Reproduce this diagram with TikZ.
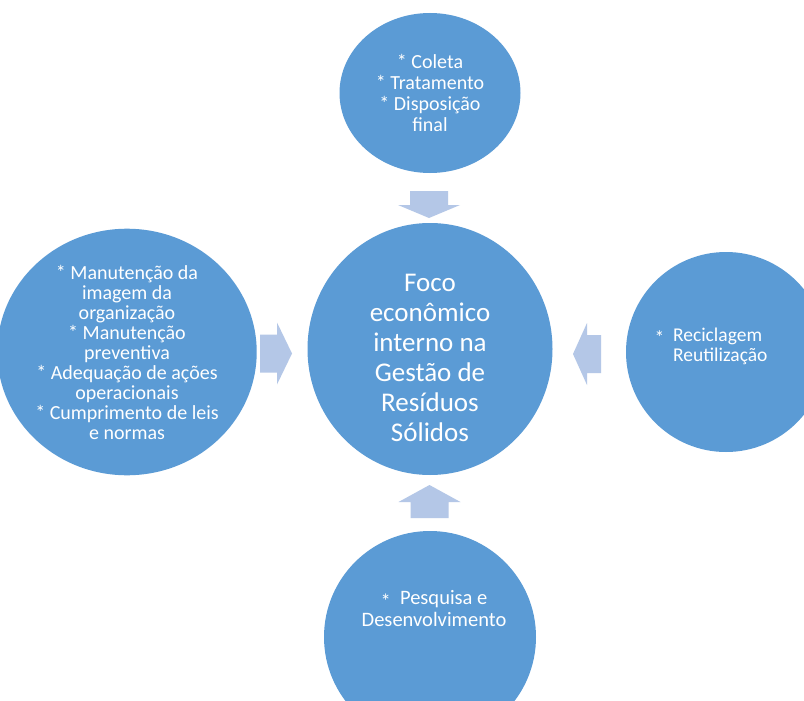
\documentclass[tikz,border=0pt]{standalone}
\usepackage{fontspec}
\setmainfont{Carlito}
\usetikzlibrary{shapes.geometric}
\definecolor{bubblefill}{RGB}{91,155,213}
\definecolor{arrowfill}{RGB}{180,199,231}
\newcommand{\bulletstar}{\raisebox{-0.15em}[0pt][0pt]{*}}
\begin{document}
\begin{tikzpicture}[x=1pt, y=-1pt, font=\fontsize{20}{21}\selectfont,
	bubble/.style={ellipse, fill=bubblefill, text=white, align=center, inner sep=0pt},
	bubbletext/.style={text=white, align=center, inner sep=0pt},
	blockarrow/.style={fill=arrowfill}]
	\clip (0,0) rectangle (804,701);
	\fill[white] (0,0) rectangle (804,701);
	% circles
	\node[bubble, minimum width=245pt, minimum height=252pt] (hub) at (430,349) {};
	\node[bubbletext, font=\fontsize{27}{30}\selectfont] (hub-text) at ([yshift=-9pt]hub.center)
		{Foco\\econômico\\interno na\\Gestão de\\Resíduos\\Sólidos};
	\node[bubble, minimum width=181pt, minimum height=160pt] (top) at (430,93)
		{* Coleta\\* Tratamento\\* Disposição\\final};
	\node[bubble, minimum width=237pt, minimum height=235pt, font=\fontsize{20}{20}\selectfont] (left) at (127,352)
		{* Manutenção da\\imagem da\\organização\\* Manutenção\\preventiva\\* Adequação de ações\\operacionais\\* Cumprimento de leis\\e normas};
	\node[bubble, minimum size=200pt] (right) at (726,352) {};
	\node[bubbletext, align=left, font=\fontsize{19.5}{20}\selectfont] (right-text) at (711,346)
		{\bulletstar\ \ Reciclagem\\\phantom{\bulletstar\ \ }Reutilização};
	\node[bubble, minimum size=212pt] (bottom) at (430,637) {};
	\node[bubbletext, font=\fontsize{20.5}{22}\selectfont] (bottom-text) at (434,609)
		{\bulletstar\ \ Pesquisa e\\Desenvolvimento};
	% block arrows towards the hub
	\path (429,204.5) coordinate (top-hub) (276,353.5) coordinate (left-hub)
		(587,354) coordinate (right-hub) (429.5,501.5) coordinate (bottom-hub);
	\foreach \c/\r/\l/\h in {top-hub/-90/27/13, left-hub/0/32/15, right-hub/180/28/14, bottom-hub/90/33/17}
		\fill[blockarrow, shift={(\c)}, rotate=\r]
			(-\l/2,-19) -- (\l/2-\h,-19) -- (\l/2-\h,-31) -- (\l/2,0)
			-- (\l/2-\h,31) -- (\l/2-\h,19) -- (-\l/2,19) -- cycle;
\end{tikzpicture}
\end{document}
